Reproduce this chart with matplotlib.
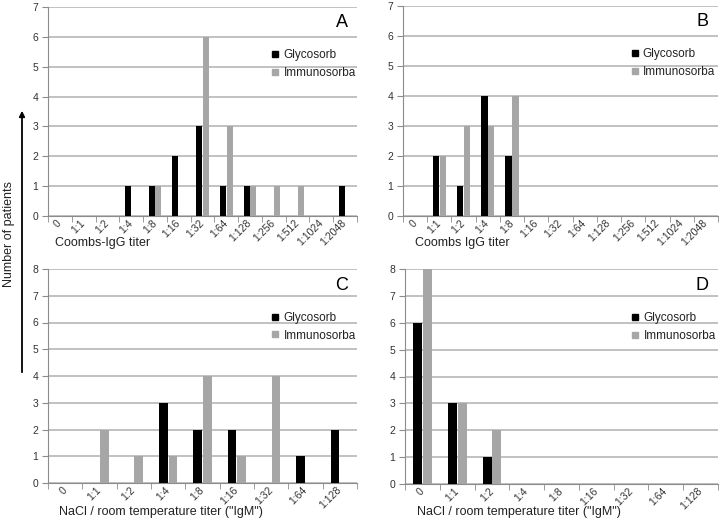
import matplotlib
matplotlib.use("Agg")
import matplotlib.pyplot as plt
import matplotlib.transforms as mtransforms
from matplotlib.lines import Line2D
import numpy as np

plt.rcParams['font.family'] = ['Liberation Sans', 'DejaVu Sans']

# data
coombs_cats = ["0", "1:1", "1:2", "1:4", "1:8", "1:16", "1:32", "1:64",
               "1:128", "1:256", "1:512", "1:1024", "1:2048"]
a_glyco = [0, 0, 0, 1, 1, 2, 3, 1, 1, 0, 0, 0, 1]
a_immuno = [0, 0, 0, 0, 1, 0, 6, 3, 1, 1, 1, 0, 0]
b_glyco = [0, 2, 1, 4, 2, 0, 0, 0, 0, 0, 0, 0, 0]
b_immuno = [0, 2, 3, 3, 4, 0, 0, 0, 0, 0, 0, 0, 0]

nacl_cats = ["0", "1:1", "1:2", "1:4", "1:8", "1:16", "1:32", "1:64", "1:128"]
c_glyco = [0, 0, 0, 3, 2, 2, 0, 1, 2]
c_immuno = [0, 2, 1, 1, 4, 1, 4, 0, 0]
d_glyco = [6, 3, 1, 0, 0, 0, 0, 0, 0]
d_immuno = [8, 3, 2, 0, 0, 0, 0, 0, 0]

series_names = ["Glycosorb", "Immunosorba"]
colors = ['black', '#a6a6a6']

W, H = 723, 522
fig = plt.figure(figsize=(W / 100, H / 100), dpi=100)


def px_axes(l, t, r, b):
    return fig.add_axes([l / W, 1 - b / H, (r - l) / W, (b - t) / H])


def panel(ax, cats, g, im, ymax, letter, xlabel, xl_pos):
    x = np.arange(len(cats))
    w = 0.26
    ax.bar(x - 0.14, g, w, color=colors[0], zorder=3)
    ax.bar(x + 0.14, im, w, color=colors[1], zorder=3)
    ax.set_xlim(-0.5, len(cats) - 0.5)
    ax.set_ylim(0, ymax)
    ax.set_yticks(range(ymax + 1))
    ax.yaxis.grid(True, color='#b0b0b0', lw=1.1, zorder=0)
    for s in ['top', 'right']:
        ax.spines[s].set_visible(False)
    for s in ['left', 'bottom']:
        ax.spines[s].set_color('#8c8c8c')
    ax.set_xticks(x)
    ax.set_xticklabels(cats, rotation=45, ha='right', va='center',
                       rotation_mode='anchor', fontsize=7.5, color='#333333')
    shift = mtransforms.ScaledTranslation(3 / 100, 0, fig.dpi_scale_trans)
    for lab in ax.get_xticklabels():
        lab.set_transform(lab.get_transform() + shift)
    ax.tick_params(axis='x', which='major', length=0, pad=4)
    ax.set_xticks(np.arange(-0.5, len(cats)), minor=True)
    ax.tick_params(axis='x', which='minor', length=4, color='#8c8c8c')
    ax.tick_params(axis='y', length=4, color='#8c8c8c', labelsize=7.5,
                   labelcolor='#333333', pad=3)
    ax.text(0.97, 0.925, letter, transform=ax.transAxes, ha='right',
            va='center', fontsize=13)
    handles = [Line2D([], [], ls='none', marker='s', markersize=5,
                      color=c) for c in colors]
    leg = ax.legend(handles, series_names, loc='upper left',
                    bbox_to_anchor=(0.69, 0.85), frameon=False, fontsize=8.5,
                    handlelength=0.6, handletextpad=0.4, labelspacing=0.5)
    for t in leg.get_texts():
        t.set_color('#222222')
    fig.text(xl_pos[0] / W, 1 - xl_pos[1] / H, xlabel, ha='left',
             va='center', fontsize=9, color='#222222')


axA = px_axes(48, 7, 357, 216)
axB = px_axes(403, 6, 718, 216)
axC = px_axes(48, 269, 357, 483)
axD = px_axes(405, 269, 718, 484)

panel(axA, coombs_cats, a_glyco, a_immuno, 7, "A", "Coombs-IgG titer", (55, 243))
panel(axB, coombs_cats, b_glyco, b_immuno, 7, "B", "Coombs IgG titer", (415, 243))
panel(axC, nacl_cats, c_glyco, c_immuno, 8, "C",
      'NaCl / room temperature titer ("IgM")', (59, 512))
panel(axD, nacl_cats, d_glyco, d_immuno, 8, "D",
      'NaCl / room temperature titer ("IgM")', (417, 512))

fig.text(9 / W, 1 - 234 / H, "Number of patients", rotation=90,
         ha='center', va='center', fontsize=9, color='#222222')
fig.patches.append(matplotlib.patches.FancyArrowPatch(
    (22 / W, 1 - 375 / H), (22 / W, 1 - 108 / H), transform=fig.transFigure,
    arrowstyle='-|>', mutation_scale=8, lw=1.3, color='black'))

fig.savefig("out.png", dpi=100)
